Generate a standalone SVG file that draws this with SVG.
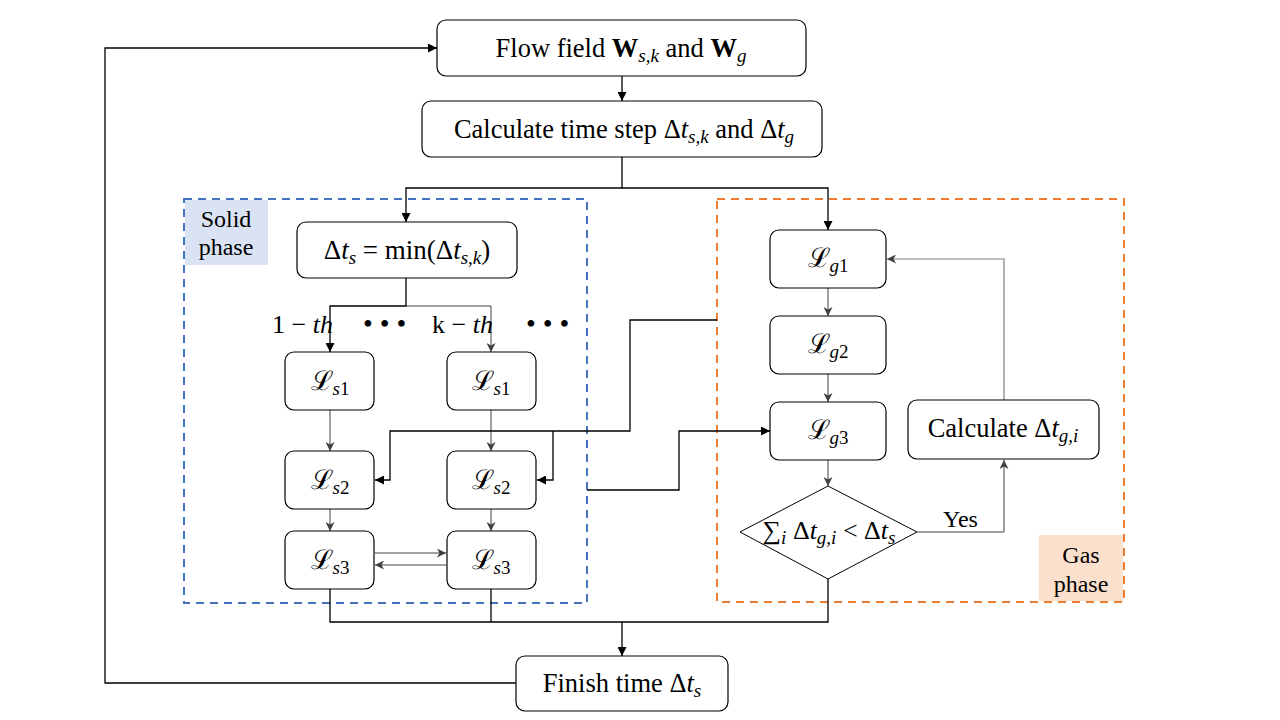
<svg xmlns="http://www.w3.org/2000/svg" width="1280" height="720" viewBox="0 0 1280 720">
<style>
.box{fill:#fff;stroke:#000;stroke-width:1.2}
.t{font-family:"Liberation Serif","DejaVu Serif",serif;font-size:26.5px;fill:#000}
.m{font-family:"Liberation Serif","DejaVu Serif",serif;font-size:26px;fill:#000}
.lab{font-family:"Liberation Serif","DejaVu Serif",serif;font-size:24px;fill:#000}
.i{font-style:italic}
.b{font-weight:bold}
.sub{font-size:19px;font-style:italic}
.L{font-family:"DejaVu Serif","Liberation Serif",serif;font-size:27px}
.c{fill:none;stroke:#000;stroke-width:1.3}
.g{fill:none;stroke:#404040;stroke-width:1}
.gl{fill:none;stroke:#7f7f7f;stroke-width:1.2}
</style>
<defs>
<marker id="ah" markerUnits="userSpaceOnUse" markerWidth="10" markerHeight="9" refX="9" refY="4.5" orient="auto"><path d="M0,0 L9,4.5 L0,9 z" fill="#000"/></marker>
<marker id="ag" markerUnits="userSpaceOnUse" markerWidth="10" markerHeight="9" refX="9" refY="4.5" orient="auto"><path d="M0,0 L9,4.5 L0,9 L2.5,4.5 z" fill="#404040"/></marker>
</defs>
<rect width="1280" height="720" fill="#fff"/>

<g id="solid-phase">
<rect x="184" y="199" width="403" height="404" fill="none" stroke="#4472C4" stroke-width="2" stroke-dasharray="8,6"/>
<rect x="185" y="200" width="83" height="65" fill="#DAE3F3"/>
<text class="lab" x="226" y="227" text-anchor="middle">Solid</text>
<text class="lab" x="226" y="255" text-anchor="middle">phase</text>
</g>
<g id="gas-phase">
<rect x="717" y="199" width="407" height="403" fill="none" stroke="#ED7D31" stroke-width="2" stroke-dasharray="8,6"/>
<rect x="1039" y="535" width="84" height="66" fill="#FBE0CD"/>
<text class="lab" x="1081" y="563" text-anchor="middle">Gas</text>
<text class="lab" x="1081" y="592" text-anchor="middle">phase</text>
</g>

<g id="connectors">
<path class="c" d="M622,76 V101" marker-end="url(#ah)"/>
<path class="c" d="M622,157 V188 H406 V222" marker-end="url(#ah)"/>
<path class="c" d="M622,188 H828 V230" marker-end="url(#ah)"/>
<path class="c" d="M406,278 V306 H330 V352" marker-end="url(#ah)"/>
<path class="g" d="M406,306 H491 V352" marker-end="url(#ag)"/>
<path class="g" d="M330,410 V451" marker-end="url(#ag)"/>
<path class="g" d="M491,410 V451" marker-end="url(#ag)"/>
<path class="g" d="M330,509 V531" marker-end="url(#ag)"/>
<path class="g" d="M491,509 V531" marker-end="url(#ag)"/>
<path class="g" d="M375,553 H446" marker-end="url(#ag)"/>
<path class="g" d="M446,565 H375" marker-end="url(#ag)"/>
<path class="c" d="M717,320 H630 V431 H390 V480 H375" marker-end="url(#ah)"/>
<path class="c" d="M553,431 V480 H537" marker-end="url(#ah)"/>
<path class="c" d="M587,490 H679 V431 H770" marker-end="url(#ah)"/>
<path class="g" d="M828,288 V316" marker-end="url(#ag)"/>
<path class="g" d="M828,374 V402" marker-end="url(#ag)"/>
<path class="g" d="M828,460 V486" marker-end="url(#ag)"/>
<path class="g" d="M917,532 H1004 V460" marker-end="url(#ag)"/>
<path class="gl" d="M1004,400 V259 H887" marker-end="url(#ag)"/>
<path class="c" d="M330,589 V622 H828 V579"/>
<path class="c" d="M491,589 V622"/>
<path class="c" d="M622,622 V656" marker-end="url(#ah)"/>
<path class="c" d="M516,683 H105 V48 H437" marker-end="url(#ah)"/>
</g>

<g id="flow-field">
<rect class="box" x="437" y="20" width="369" height="56" rx="9"/>
<text class="t" x="621" y="57" text-anchor="middle">Flow field <tspan class="b">W</tspan><tspan class="sub" dy="5">s,k</tspan><tspan dy="-5"> and </tspan><tspan class="b">W</tspan><tspan class="sub" dy="5">g</tspan></text>
</g>
<g id="calc-time-step">
<rect class="box" x="422" y="101" width="400" height="56" rx="9"/>
<text class="t" x="624" y="138" text-anchor="middle">Calculate time step Δ<tspan class="i">t</tspan><tspan class="sub" dy="5">s,k</tspan><tspan dy="-5"> and Δ</tspan><tspan class="i">t</tspan><tspan class="sub" dy="5">g</tspan></text>
</g>
<g id="dts-min">
<rect class="box" x="297" y="222" width="220" height="56" rx="9"/>
<text class="m" x="407" y="259" text-anchor="middle" style="font-size:27px">Δ<tspan class="i">t</tspan><tspan class="sub" dy="5">s</tspan><tspan dy="-5"> = min(Δ</tspan><tspan class="i">t</tspan><tspan class="sub" dy="5">s,k</tspan><tspan dy="-5">)</tspan></text>
</g>
<g id="branch-labels">
<text class="m" x="272" y="333">1 − <tspan class="i">th</tspan></text>
<text class="m" x="432" y="333">k − <tspan class="i">th</tspan></text>
<text class="m" x="363" y="333" style="font-size:28px">• • •</text>
<text class="m" x="526" y="333" style="font-size:28px">• • •</text>
</g>

<g id="ls1-a"><rect class="box" x="285" y="352" width="89" height="58" rx="9"/><text class="m" x="330" y="390" text-anchor="middle"><tspan class="L">ℒ</tspan><tspan class="sub" dy="5">s</tspan><tspan style="font-size:19px">1</tspan></text></g>
<g id="ls1-b"><rect class="box" x="447" y="352" width="89" height="58" rx="9"/><text class="m" x="491" y="390" text-anchor="middle"><tspan class="L">ℒ</tspan><tspan class="sub" dy="5">s</tspan><tspan style="font-size:19px">1</tspan></text></g>
<g id="ls2-a"><rect class="box" x="285" y="451" width="89" height="58" rx="9"/><text class="m" x="330" y="489" text-anchor="middle"><tspan class="L">ℒ</tspan><tspan class="sub" dy="5">s</tspan><tspan style="font-size:19px">2</tspan></text></g>
<g id="ls2-b"><rect class="box" x="447" y="451" width="89" height="58" rx="9"/><text class="m" x="491" y="489" text-anchor="middle"><tspan class="L">ℒ</tspan><tspan class="sub" dy="5">s</tspan><tspan style="font-size:19px">2</tspan></text></g>
<g id="ls3-a"><rect class="box" x="285" y="531" width="89" height="58" rx="9"/><text class="m" x="330" y="569" text-anchor="middle"><tspan class="L">ℒ</tspan><tspan class="sub" dy="5">s</tspan><tspan style="font-size:19px">3</tspan></text></g>
<g id="ls3-b"><rect class="box" x="447" y="531" width="89" height="58" rx="9"/><text class="m" x="491" y="569" text-anchor="middle"><tspan class="L">ℒ</tspan><tspan class="sub" dy="5">s</tspan><tspan style="font-size:19px">3</tspan></text></g>

<g id="lg1"><rect class="box" x="770" y="230" width="116" height="58" rx="9"/><text class="m" x="828" y="267" text-anchor="middle"><tspan class="L">ℒ</tspan><tspan class="sub" dy="5">g</tspan><tspan style="font-size:19px">1</tspan></text></g>
<g id="lg2"><rect class="box" x="770" y="316" width="116" height="58" rx="9"/><text class="m" x="828" y="353" text-anchor="middle"><tspan class="L">ℒ</tspan><tspan class="sub" dy="5">g</tspan><tspan style="font-size:19px">2</tspan></text></g>
<g id="lg3"><rect class="box" x="770" y="402" width="116" height="58" rx="9"/><text class="m" x="828" y="439" text-anchor="middle"><tspan class="L">ℒ</tspan><tspan class="sub" dy="5">g</tspan><tspan style="font-size:19px">3</tspan></text></g>

<g id="decision">
<path d="M828,486 L917,532 L828,579 L740,532 Z" fill="#fff" stroke="#000" stroke-width="1"/>
<text class="m" x="829" y="539" text-anchor="middle">∑<tspan class="sub" dy="5">i</tspan><tspan dy="-5"> Δ</tspan><tspan class="i">t</tspan><tspan class="sub" dy="5">g,i</tspan><tspan dy="-5"> &lt; Δ</tspan><tspan class="i">t</tspan><tspan class="sub" dy="5">s</tspan></text>
<text class="lab" x="943" y="527">Yes</text>
</g>
<g id="calc-dtgi">
<rect class="box" x="908" y="400" width="191" height="59" rx="9"/>
<text class="t" x="1003" y="437" text-anchor="middle">Calculate Δ<tspan class="i">t</tspan><tspan class="sub" dy="5">g,i</tspan></text>
</g>
<g id="finish">
<rect class="box" x="516" y="656" width="212" height="55" rx="9"/>
<text class="t" x="622" y="692" text-anchor="middle">Finish time Δ<tspan class="i">t</tspan><tspan class="sub" dy="5">s</tspan></text>
</g>
</svg>
